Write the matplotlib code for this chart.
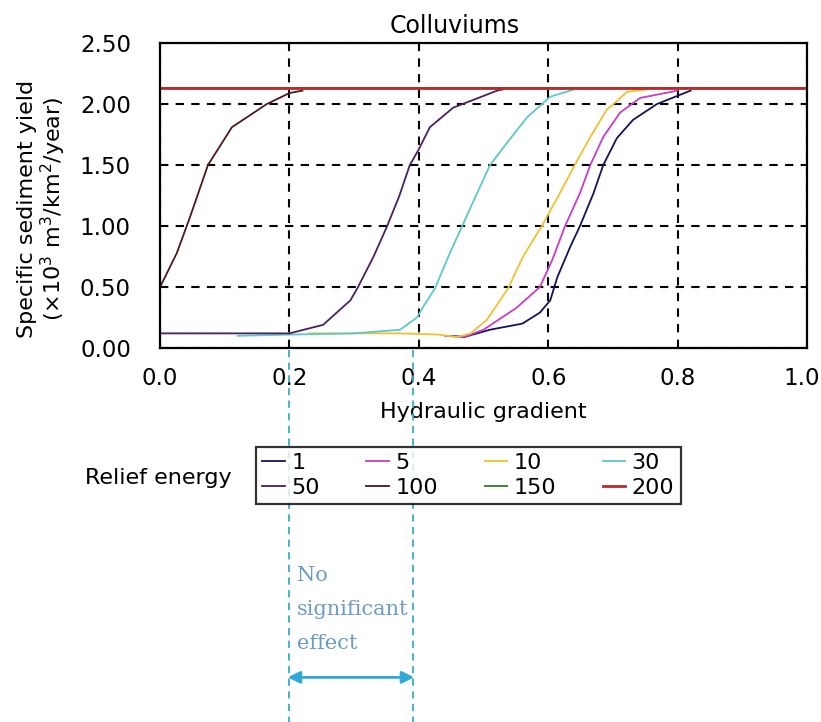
import numpy as np
import matplotlib
matplotlib.use('Agg')
import matplotlib.pyplot as plt
import matplotlib.transforms as mtransforms

# values
x_1 = [0.45, 0.47, 0.51, 0.56, 0.587, 0.603, 0.614, 0.634, 0.649, 0.67, 0.685, 0.706, 0.731, 0.768, 0.82]
y_1 = [0.10, 0.09, 0.15, 0.20, 0.29, 0.39, 0.58, 0.83, 1.00, 1.27, 1.50, 1.72, 1.87, 2.00, 2.11]

x_5 = [0.44, 0.47, 0.50, 0.551, 0.587, 0.606, 0.626, 0.649, 0.665, 0.685, 0.711, 0.742, 0.80]
y_5 = [0.10, 0.09, 0.15, 0.33, 0.50, 0.72, 1.00, 1.27, 1.50, 1.73, 1.93, 2.05, 2.11]

x_10 = [0.23, 0.30, 0.37, 0.43, 0.46, 0.48, 0.505, 0.538, 0.561, 0.59, 0.618, 0.641, 0.665, 0.69, 0.722, 0.752]
y_10 = [0.12, 0.12, 0.12, 0.11, 0.09, 0.12, 0.23, 0.49, 0.75, 1.00, 1.27, 1.50, 1.73, 1.95, 2.10, 2.12]

x_30 = [0.12, 0.20, 0.30, 0.371, 0.397, 0.407, 0.425, 0.448, 0.467, 0.49, 0.51, 0.536, 0.567, 0.603, 0.64]
y_30 = [0.10, 0.11, 0.12, 0.15, 0.25, 0.34, 0.49, 0.78, 1.00, 1.27, 1.50, 1.68, 1.89, 2.06, 2.12]

x_50 = [0.0, 0.10, 0.20, 0.252, 0.294, 0.306, 0.33, 0.351, 0.37, 0.386, 0.399, 0.417, 0.453, 0.521, 0.53]
y_50 = [0.12, 0.12, 0.12, 0.19, 0.39, 0.50, 0.75, 1.00, 1.25, 1.50, 1.62, 1.81, 1.97, 2.11, 2.12]

x_100 = [0.0, 0.026, 0.046, 0.074, 0.111, 0.165, 0.20, 0.22]
y_100 = [0.50, 0.78, 1.07, 1.50, 1.81, 2.00, 2.09, 2.11]

x_150 = [0.0, 1.0]
y_150 = [2.13, 2.13]

x_200 = [0.0, 1.0]
y_200 = [2.13, 2.13]

series = [
    ('1', x_1, y_1, '#14145a'),
    ('5', x_5, y_5, '#c83cc8'),
    ('10', x_10, y_10, '#f0c030'),
    ('30', x_30, y_30, '#5cc8c8'),
    ('50', x_50, y_50, '#4a2060'),
    ('100', x_100, y_100, '#501818'),
    ('150', x_150, y_150, '#287828'),
    ('200', x_200, y_200, '#c02828'),
]

effect_lo = 0.199
effect_hi = 0.391

fig = plt.figure(figsize=(8.21, 7.22), dpi=100)
ax = fig.add_axes([0.195, 0.518, 0.788, 0.4224])

handles = []
for name, xs, ys, col in series:
    lw = 2.0 if name == '200' else 1.3
    h, = ax.plot(xs, ys, color=col, lw=lw, label=name)
    handles.append(h)

ax.set_xlim(0, 1)
ax.set_ylim(0, 2.5)
ax.set_xticks(np.arange(0, 1.01, 0.2))
ax.set_xticklabels(['0.0', '0.2', '0.4', '0.6', '0.8', '1.0'])
ax.set_yticks(np.arange(0, 2.51, 0.5))
ax.set_yticklabels(['0.00', '0.50', '1.00', '1.50', '2.00', '2.50'])
ax.tick_params(length=0, labelsize=16.5)
ax.tick_params(axis='x', pad=14)
ax.tick_params(axis='y', pad=21)
ax.grid(True, color='black', linestyle=(0, (4, 3.5)), lw=1.5)
for s in ax.spines.values():
    s.set_linewidth(1.6)

# keep the last x label inside the picture
last = ax.get_xticklabels()[-1]
last.set_transform(last.get_transform() + mtransforms.ScaledTranslation(-5 / 100, 0, fig.dpi_scale_trans))

ax.set_title('Colluviums', fontsize=17, pad=7, x=0.456)
ax.set_xlabel('Hydraulic gradient', fontsize=16, labelpad=8)
ax.set_ylabel('Specific sediment yield\n(×10$^3$ m$^3$/km$^2$/year)', fontsize=16,
              linespacing=1.1)
ax.yaxis.set_label_coords(-0.142, 0.455)

# legend is filled row by row in the reference
order = [0, 4, 1, 5, 2, 6, 3, 7]
leg = fig.legend(handles=[handles[i] for i in order], ncol=4, loc='upper left',
                 bbox_to_anchor=(0.312, 0.381),
                 fontsize=16, frameon=True, fancybox=False, edgecolor='black',
                 handlelength=1.0, handletextpad=0.3, columnspacing=2.1, labelspacing=0.2,
                 borderpad=0.28, borderaxespad=0)
leg.get_frame().set_linewidth(1.6)
fig.text(0.103, 0.338, 'Relief energy', fontsize=16, va='center')

# annotation below the axes
for xv in (effect_lo, effect_hi):
    ax.plot([xv, xv], [-0.02, -3.1], color='#3aaac8', lw=1.3, ls=(0, (4, 3)), clip_on=False)
ax.annotate('', xy=(effect_lo - 0.006, -2.7), xytext=(effect_hi + 0.006, -2.7),
            xycoords='data', annotation_clip=False,
            arrowprops=dict(arrowstyle='<|-|>', color='#30a8d8', lw=2, mutation_scale=18))
ax.text(effect_lo + 0.012, -2.14, 'No\nsignificant\neffect', fontsize=15, family='DejaVu Serif',
        color='#6a9cc0', va='center', ha='left', linespacing=2.0, clip_on=False)

fig.savefig('out.png', dpi=100)
